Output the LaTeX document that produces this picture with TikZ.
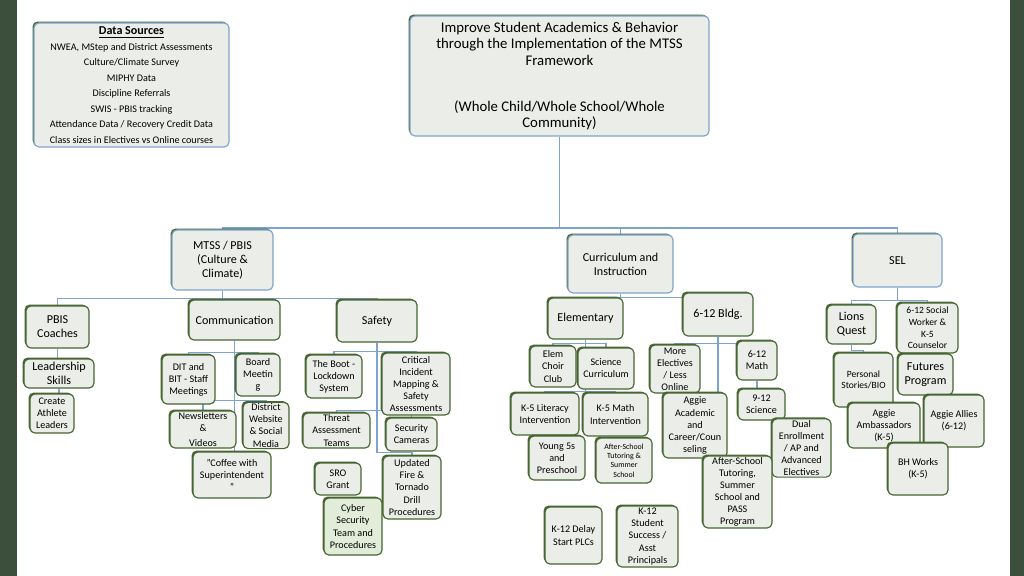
\documentclass[tikz,border=0pt]{standalone}
\usepackage{fontspec}
\setmainfont{Carlito}
\usetikzlibrary{shadows, backgrounds}

\definecolor{framegreen}{HTML}{3C4F3D}
\definecolor{boxfill}{HTML}{EBEEE8}
\definecolor{boxgreen}{HTML}{466530}
\definecolor{linkblue}{HTML}{7EA3CF}
\definecolor{cyberfill}{HTML}{E2EDD9}

\begin{document}
\begin{tikzpicture}[
  x=0.025cm, y=-0.025cm,
  box/.style={draw=boxgreen, line width=0.8pt, fill=boxfill, rounded corners=3.5pt,
    align=center, inner sep=1pt, font=\fontsize{7.2}{8.6}\selectfont,
    drop shadow={shadow xshift=-1pt, shadow yshift=1pt, fill=boxgreen, opacity=1}},
  topbox/.style={box, draw=linkblue},
  wh/.style 2 args={minimum width=#1*0.025cm, minimum height=#2*0.025cm},
  fbig/.style={font=\fontsize{10.5}{11.7}\selectfont},
  fmid/.style={font=\fontsize{8.6}{10}\selectfont},
  fxs/.style={font=\fontsize{5.6}{6.6}\selectfont},
  link/.style={draw=linkblue, line width=0.9pt}
]
\useasboundingbox (0,0) rectangle (1024,576);
\fill[framegreen] (0,0) rectangle (17,576);
\fill[framegreen] (1010,0) rectangle (1024,576);

\node[topbox, wh={195}{124}, font=\fontsize{7.2}{11}\selectfont] (data) at (131.5,85)
  {{\fontsize{8.6}{10}\selectfont\underline{\textbf{Data Sources}}}\\
   NWEA, MStep and District Assessments\\Culture/Climate Survey\\MIPHY Data\\
   Discipline Referrals\\SWIS - PBIS tracking\\Attendance Data / Recovery Credit Data\\
   Class sizes in Electives vs Online courses};
\node[topbox, wh={299}{120}, fbig] (root) at (559.5,76)
  {Improve Student Academics \& Behavior\\through the Implementation of the MTSS\\Framework\\[21pt]
   (Whole Child/Whole School/Whole\\Community)};

\node[topbox, wh={101}{60}, fmid] (mtss) at (222.5,260) {MTSS / PBIS\\(Culture \&\\Climate)};
\node[topbox, wh={105}{58}, fmid] (curr) at (620.5,264) {Curriculum and\\Instruction};
\node[topbox, wh={89}{53}, fmid] (sel) at (897.5,260.5) {SEL};

\node[box, wh={63}{42}, fmid] (pbis) at (57.5,327) {PBIS\\Coaches};
\node[box, wh={70}{29}, fmid] (lead) at (59,373.5) {Leadership\\Skills};
\node[box, wh={44}{39}] (create) at (52,413.5) {Create\\Athlete\\Leaders};
\node[box, wh={91}{40}, fmid] (comm) at (234.5,320) {Communication};
\node[box, wh={80}{42}, fmid] (safety) at (377,321) {Safety};

\node[box, wh={53}{49}] (dit) at (188.5,379.5) {DIT and\\BIT - Staff\\Meetings};
\node[box, wh={44}{42}] (board) at (258,375) {Board\\Meetin\\g};
\node[box, wh={66}{35}] (news) at (203,429.5) {Newsletters\\\&\\[2pt]Videos};
\node[box, wh={46}{45}] (district) at (266,425.5) {District\\Website\\\& Social\\Media};
\node[box, wh={78}{46}] (coffee) at (232,475) {"Coffee with\\Superintendent\\"};

\node[box, wh={56}{43}] (boot) at (334,376.5) {The Boot -\\Lockdown\\System};
\node[box, wh={68}{62}] (critical) at (416,384) {Critical\\Incident\\Mapping \&\\Safety\\Assessments};
\node[box, wh={67}{35}] (threat) at (336.5,430.5) {Threat\\Assessment\\Teams};
\node[box, wh={51}{33}] (security) at (411.5,434.5) {Security\\Cameras};
\node[box, wh={46}{32}] (sro) at (338,479) {SRO\\Grant};
\node[box, wh={58}{63}] (fire) at (412,487.5) {Updated\\Fire \&\\Tornado\\Drill\\Procedures};
\node[box, wh={58}{57}, fill=cyberfill] (cyber) at (353,526.5) {Cyber\\Security\\Team and\\Procedures};

\node[box, wh={75}{41}, fmid] (elem) at (585.5,318.5) {Elementary};
\node[box, wh={70}{43}, fmid] (bldg) at (718,314.5) {6-12 Bldg.};
\node[box, wh={46}{41}] (choir) at (553,366.5) {Elem\\Choir\\Club};
\node[box, wh={56}{41}] (science) at (606,368.5) {Science\\Curriculum};
\node[box, wh={68}{42}] (literacy) at (545,414) {K-5 Literacy\\Intervention};
\node[box, wh={65}{43}] (kmath) at (615.5,414.5) {K-5 Math\\Intervention};
\node[box, wh={56}{44}] (young) at (557,458) {Young 5s\\and\\Preschool};
\node[box, wh={56}{45}, fxs] (aftere) at (624,460.5) {After-School\\Tutoring \&\\Summer\\School};
\node[box, wh={57}{57}] (delay) at (573.5,535.5) {K-12 Delay\\Start PLCs};
\node[box, wh={61}{61}] (success) at (647.5,536.5) {K-12\\Student\\Success /\\Asst\\Principals};

\node[box, wh={50}{48}] (electives) at (675,369) {More\\Electives\\/ Less\\Online};
\node[box, wh={40}{39}] (matha) at (757,360.5) {6-12\\Math};
\node[box, wh={47}{31}] (scib) at (761.5,404.5) {9-12\\Science};
\node[box, wh={64}{65}] (aggie) at (695,425.5) {Aggie\\Academic\\and\\Career/Coun\\seling};
\node[box, wh={59}{58}] (dual) at (801.5,448) {Dual\\Enrollment\\/ AP and\\Advanced\\Electives};
\node[box, wh={69}{70}] (afterp) at (737.5,492) {After-School\\Tutoring,\\Summer\\School and\\PASS\\Program};

\node[box, wh={49}{39}, fmid] (lions) at (851.5,324.5) {Lions\\Quest};
\node[box, wh={61}{50}, font=\fontsize{6.8}{8.2}\selectfont] (social) at (927.5,328) {6-12 Social\\Worker \&\\K-5\\Counselor};
\node[box, wh={59}{54}, font=\fontsize{6.8}{8.2}\selectfont] (personal) at (863.5,380) {Personal\\Stories/BIO};
\node[box, wh={55}{41}, fmid] (futures) at (925.5,374.5) {Futures\\Program};
\node[box, wh={72}{45}] (ambass) at (884,425.5) {Aggie\\Ambassadors\\(K-5)};
\node[box, wh={60}{52}] (allies) at (954,421) {Aggie Allies\\(6-12)};
\node[box, wh={60}{52}] (bhworks) at (918,469) {BH Works\\(K-5)};

\begin{scope}[on background layer]
\coordinate (bus0) at (559.5,228);
\draw[link] (root.south) -- (bus0) -| (mtss.north);
\draw[link] (bus0) -| (curr.north);
\draw[link] (bus0) -| (sel.north);

\draw[link] (mtss.south) -- ++(0,8) coordinate (bus1) -| (safety.north);
\draw[link] (bus1) -| (comm.north);
\draw[link] (bus1) -| (pbis.north);
\draw[link] (pbis.south) -- (pbis.south |- lead.north);
\draw[link] (lead.south) -- (lead.south |- create.north);

\draw[link] (comm.south) -- ++(0,12) coordinate (cb) -| (dit.north);
\draw[link] (cb) -| (board.north);
\draw[link] (comm.south) -- ++(0,60) coordinate (cb2) -| (news.north);
\draw[link] (cb2) -| (district.north);
\draw[link] (cb2) -- (cb2 |- coffee.north);

\draw[link] (safety.south) -- ++(0,9) coordinate (sb) -| (boot.north);
\draw[link] (sb) -| (critical.north);
\draw[link] (safety.south) -- ++(0,68) coordinate (sb2) -| (threat.north);
\draw[link] (sb2) -| (security.north);
\draw[link] (safety.south) -- ++(0,110) coordinate (sb3) -| (fire.north);

\draw[link] (curr.south) -- ++(0,4) coordinate (kb) -| (elem.north);
\draw[link] (kb) -| (bldg.north);
\draw[link] (elem.south) -- ++(0,4) coordinate (eb) -| (choir.north);
\draw[link] (eb) -| (science.north);
\draw[link] (elem.south) -- ++(0,52) coordinate (eb2) -| (literacy.north);
\draw[link] (eb2) -| (kmath.north);

\draw[link] (bldg.south) -- ++(0,7) coordinate (bb) -| (electives.north);
\draw[link] (bb) -| (matha.north);
\draw[link] (bldg.south) -- ++(0,56) coordinate (bb2) -| (aggie.north);
\draw[link] (matha.south) -- (matha.south |- scib.north);

\draw[link] (sel.south) -- ++(0,13) coordinate (lb) -| (lions.north);
\draw[link] (lb) -| (social.north);
\draw[link] (lions.south) -- ++(0,6) -| (personal.north);
\end{scope}
\end{tikzpicture}
\end{document}
